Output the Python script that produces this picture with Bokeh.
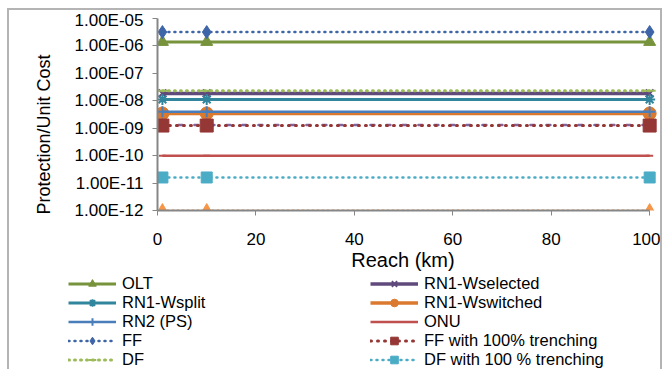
from bokeh.plotting import figure
from bokeh.layouts import column
from bokeh.models import (Range1d, FixedTicker, CustomJSTickFormatter, Legend, LegendItem,
                          ColumnDataSource)
from bokeh.embed import file_html
from bokeh.resources import INLINE

# ---- data ----
reach = [1, 10, 100]
olt = [1.4e-06, 1.4e-06, 1.4e-06]
rn1_wselected = [1.86e-08, 1.86e-08, 1.86e-08]
rn1_wsplit = [1.12e-08, 1.12e-08, 1.12e-08]
rn1_wswitched = [3.45e-09, 3.45e-09, 3.45e-09]
rn2_ps = [4.0e-09, 4.0e-09, 4.0e-09]
onu = [1.0e-10, 1.0e-10, 1.0e-10]
ff = [3.2e-06, 3.2e-06, 3.2e-06]
ff_trench = [1.25e-09, 1.25e-09, 1.25e-09]
df = [2.3e-08, 2.3e-08, 2.3e-08]
df_trench = [1.6e-11, 1.6e-11, 1.6e-11]
extra_purple = [1.3e-09, 1.3e-09, 1.3e-09]
extra_orange = [1.0e-12, 1.0e-12, 1.0e-12]

x_ticks = [0, 20, 40, 60, 80, 100]
y_ticks = [1e-12, 1e-11, 1e-10, 1e-09, 1e-08, 1e-07, 1e-06, 1e-05]

FONT = "Liberation Sans"
NB = "\u00a0"

p = figure(width=651, height=263, output_backend="svg", toolbar_location=None,
           y_axis_type="log", x_range=Range1d(0, 102), y_range=Range1d(1e-12, 1e-05),
           min_border_left=148, min_border_right=1, min_border_top=8, min_border_bottom=62)
p.outline_line_color = None
p.xgrid.visible = False
p.ygrid.visible = False

for ax in (p.xaxis[0], p.yaxis[0]):
    ax.axis_line_color = "#868686"
    ax.axis_line_width = 2
    ax.major_tick_line_color = "#868686"
    ax.major_tick_line_width = 1
    ax.major_tick_out = 5
    ax.major_tick_in = 0
    ax.minor_tick_line_color = None
    ax.major_label_text_font = FONT
    ax.major_label_text_font_size = "17px"
    ax.major_label_text_color = "black"
    ax.axis_label_text_font = FONT
    ax.axis_label_text_font_style = "normal"
    ax.axis_label_text_color = "black"

p.xaxis.bounds = (0, 100)
p.xaxis.ticker = FixedTicker(ticks=x_ticks)
p.yaxis.ticker = FixedTicker(ticks=y_ticks)
p.yaxis.formatter = CustomJSTickFormatter(code="""
const s = tick.toExponential(2).split('e');
let e = parseInt(s[1]);
const sign = e < 0 ? '-' : '+';
e = Math.abs(e);
return s[0] + 'E' + sign + (e < 10 ? '0' : '') + e;
""")
p.xaxis.axis_label = "Reach (km)" + NB * 2
p.yaxis.axis_label = "Protection/Unit Cost" + NB * 8
p.xaxis.axis_label_text_font_size = "20px"
p.yaxis.axis_label_text_font_size = "18px"
p.xaxis.major_label_standoff = 17
p.yaxis.major_label_standoff = 9
p.xaxis.axis_label_standoff = 1
p.yaxis.axis_label_standoff = 18

series = [
    # name, values, color, line_width, dash, marker, marker size, in legend
    ("OLT", olt, "#77933C", 3, "solid", "triangle", 12, True),
    ("RN1-Wselected", rn1_wselected, "#604A7B", 3.5, "solid", "x", 11, True),
    ("RN1-Wsplit", rn1_wsplit, "#31859C", 3, "solid", "asterisk", 11, True),
    ("RN1-Wswitched", rn1_wswitched, "#DB7A2F", 3.5, "solid", "circle", 13, True),
    ("RN2 (PS)", rn2_ps, "#4A7EBB", 2.5, "solid", "cross", 11, True),
    ("ONU", onu, "#C0504D", 2.5, "solid", "dash", 7, True),
    ("FF", ff, "#3D65A8", 2.5, "1 5", "diamond", 13, True),
    ("extra1", extra_purple, "#8064A2", 2.5, "4 12", "diamond", 13, False),
    ("FF with 100% trenching", ff_trench, "#953735", 3, "1 6", "square", 13, True),
    ("DF", df, "#9BBB59", 3, "1 5", "dash", 12, True),
    ("DF with 100 % trenching", df_trench, "#4BACC6", 2.5, "1 5", "square", 11, True),
    ("extra2", extra_orange, "#F79646", 2, "1 4", "triangle", 12, False),
]

# legend-only figure
p2 = figure(width=651, height=96, output_backend="svg", toolbar_location=None,
            x_range=Range1d(200, 300), y_range=Range1d(0, 1),
            x_axis_location=None, y_axis_location=None,
            min_border_left=0, min_border_right=0, min_border_top=0, min_border_bottom=0)
p2.frame_align = False
p2.outline_line_color = None
p2.xgrid.visible = False
p2.ygrid.visible = False

items = {}
for name, vals, color, lw, dash, marker, size, leg in series:
    src = ColumnDataSource(dict(x=reach, y=vals))
    cap = "round" if dash != "solid" else "butt"
    mlw = 2 if marker in ("x", "asterisk", "cross", "dash") else 1
    p.line("x", "y", source=src, line_color=color, line_width=lw, line_dash=dash, line_cap=cap)
    p.scatter("x", "y", source=src, marker=marker, size=size, fill_color=color,
              line_color=color, line_width=mlw)
    if leg:
        r1 = p2.line("x", "y", source=src, line_color=color, line_width=lw, line_dash=dash,
                     line_cap=cap)
        r2 = p2.scatter("x", "y", source=src, marker=marker, size=size, fill_color=color,
                        line_color=color, line_width=mlw)
        items[name] = LegendItem(label=name, renderers=[r1, r2])

left_names = ["OLT", "RN1-Wsplit", "RN2 (PS)", "FF", "DF"]
right_names = ["RN1-Wselected", "RN1-Wswitched", "ONU", "FF with 100% trenching",
               "DF with 100 % trenching"]

for names, loc in ((left_names, (59, 0)), (right_names, (361, 0))):
    lg = Legend(items=[items[n] for n in names], location=loc)
    lg.glyph_width = 48
    lg.glyph_height = 19
    lg.label_height = 19
    lg.label_standoff = 6
    lg.spacing = 0
    lg.padding = 0
    lg.margin = 0
    lg.border_line_color = None
    lg.background_fill_alpha = 0
    lg.label_text_font = FONT
    lg.label_text_font_size = "16.5px"
    lg.label_text_color = "black"
    lg.label_text_baseline = "middle"
    p2.add_layout(lg, "center")

layout = column(p, p2, spacing=0)
layout.margin = (8, 0, 0, 7)
layout.styles = {"border-top": "2px solid #B4B4B4", "border-left": "2px solid #B4B4B4",
                 "border-right": "2px solid #B4B4B4"}

open("out.html", "w").write(file_html(layout, INLINE))
